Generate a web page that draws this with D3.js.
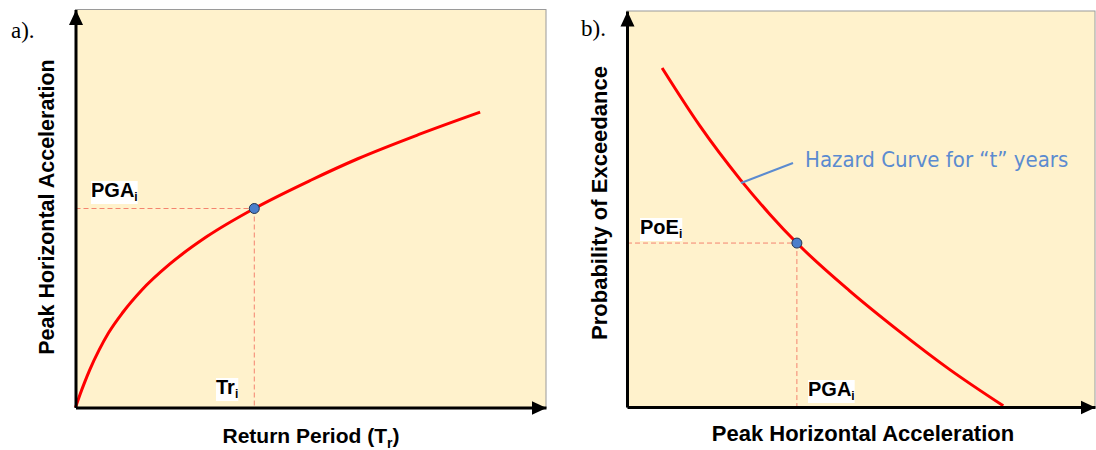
<!DOCTYPE html>
<html>
<head>
<meta charset="utf-8">
<script src="https://cdn.jsdelivr.net/npm/d3@7"></script>
<style>
  html, body { margin: 0; padding: 0; background: #ffffff; }
  svg { display: block; }
</style>
</head>
<body>
<svg id="chart" width="1096" height="450"></svg>
<script>
// Panel a: PGA rising with return period
const returnPeriod = [0, 1, 2, 3, 5, 7, 10, 14, 20, 28, 38, 50, 60, 73, 86];
const pgaByPeriod  = [0, 0.034, 0.065, 0.094, 0.144, 0.187, 0.238, 0.294, 0.36, 0.43, 0.50, 0.571, 0.625, 0.686, 0.742];
const markedPeriod = 38;
const markedPga    = 0.50;

// Panel b: hazard curve, probability of exceedance vs PGA
const pgaValues = [7.5, 15.5, 24.3, 30.5, 36.3, 47.5, 58.2, 68.9, 80.4];
const poeValues = [0.856, 0.711, 0.573, 0.487, 0.414, 0.294, 0.191, 0.095, 0.003];
const markedPgaB = 36.3;
const markedPoe  = 0.414;

const panelLabels = ["a).", "b)."];
const axisTitlesX = ["Return Period (T", "Peak Horizontal Acceleration"];
const axisTitlesY = ["Peak Horizontal Acceleration", "Probability of Exceedance"];
const calloutText = "Hazard Curve for \u201Ct\u201D years";

const svg = d3.select("#chart");
const C = {
  bg: "#FFF2CC", frame: "#9a9a9a", axis: "#000000", curve: "#ff0000",
  guide: "#f4846f", dot: "#4a7ecb", dotStroke: "#1f3350", callout: "#5b8bd0"
};
const boldFont = "'Liberation Sans', Arial, sans-serif";

const defs = svg.append("defs");
defs.append("marker")
  .attr("id", "arrow")
  .attr("markerUnits", "userSpaceOnUse")
  .attr("viewBox", "0 -8 16 16")
  .attr("refX", 15).attr("refY", 0)
  .attr("markerWidth", 16).attr("markerHeight", 16)
  .attr("orient", "auto")
  .append("path").attr("d", "M0,-7L15,0L0,7Z").attr("fill", C.axis);

const panels = [
  { x0: 75.5, x1: 546, y0: 407.5, y1: 9.5, xDom: [0, 100], yDom: [0, 1],
    xs: returnPeriod, ys: pgaByPeriod, mx: markedPeriod, my: markedPga },
  { x0: 627, x1: 1095, y0: 407, y1: 11, xDom: [0, 100], yDom: [0, 1],
    xs: pgaValues, ys: poeValues, mx: markedPgaB, my: markedPoe }
];

panels.forEach((p, i) => {
  const x = d3.scaleLinear().domain(p.xDom).range([p.x0, p.x1]);
  const y = d3.scaleLinear().domain(p.yDom).range([p.y0, p.y1]);
  p.x = x; p.y = y;
  const g = svg.append("g");

  // plotting area with thin frame on top and right
  g.append("rect")
    .attr("x", p.x0).attr("y", p.y1)
    .attr("width", p.x1 - p.x0).attr("height", p.y0 - p.y1)
    .attr("fill", C.bg).attr("stroke", C.frame).attr("stroke-width", 1);

  // dashed guide lines to the marked point
  g.append("line")
    .attr("x1", x(p.xDom[0])).attr("x2", x(p.mx))
    .attr("y1", y(p.my)).attr("y2", y(p.my))
    .attr("stroke", C.guide).attr("stroke-width", 1).attr("stroke-dasharray", "5,3");
  g.append("line")
    .attr("x1", x(p.mx)).attr("x2", x(p.mx))
    .attr("y1", y(p.my)).attr("y2", y(p.yDom[0]))
    .attr("stroke", C.guide).attr("stroke-width", 1).attr("stroke-dasharray", "5,3");

  // curve
  const line = d3.line().x(d => x(d[0])).y(d => y(d[1])).curve(d3.curveMonotoneX);
  g.append("path")
    .datum(d3.zip(p.xs, p.ys))
    .attr("d", line)
    .attr("fill", "none").attr("stroke", C.curve).attr("stroke-width", 3)
    .attr("stroke-linecap", "butt");

  // axes without ticks, with arrow heads
  const ax = g.append("g").attr("transform", `translate(0,${p.y0})`)
    .call(d3.axisBottom(x).tickValues([]).tickSizeOuter(0));
  const ay = g.append("g").attr("transform", `translate(${p.x0},0)`)
    .call(d3.axisLeft(y).tickValues([]).tickSizeOuter(0));
  [ax, ay].forEach(a => a.select(".domain")
    .attr("stroke", C.axis).attr("stroke-width", 3)
    .attr("marker-end", "url(#arrow)"));

  // panel tag
  svg.append("text")
    .attr("x", i === 0 ? 11 : 581).attr("y", i === 0 ? 38 : 36)
    .attr("font-family", "'Liberation Serif', 'Times New Roman', serif")
    .attr("font-size", 23).attr("fill", "#000")
    .text(panelLabels[i]);
});

// axis titles
const xt = svg.append("text")
  .attr("x", 311).attr("y", 443).attr("text-anchor", "middle")
  .attr("font-family", boldFont).attr("font-weight", "bold").attr("font-size", 21)
  .text(axisTitlesX[0]);
xt.append("tspan").attr("font-size", 14).attr("dy", 5).text("r");
xt.append("tspan").attr("dy", -5).text(")");

svg.append("text")
  .attr("x", 863).attr("y", 441).attr("text-anchor", "middle")
  .attr("font-family", boldFont).attr("font-weight", "bold").attr("font-size", 22)
  .text(axisTitlesX[1]);

svg.append("text")
  .attr("transform", "translate(54,207) rotate(-90)").attr("text-anchor", "middle")
  .attr("font-family", boldFont).attr("font-weight", "bold").attr("font-size", 21.5)
  .text(axisTitlesY[0]);

svg.append("text")
  .attr("transform", "translate(607,203) rotate(-90)").attr("text-anchor", "middle")
  .attr("font-family", boldFont).attr("font-weight", "bold").attr("font-size", 22)
  .text(axisTitlesY[1]);

// subscripted labels on white patches
function subLabel(xPos, yPos, main, sub) {
  const g = svg.append("g");
  const bg = g.append("rect").attr("fill", "#ffffff");
  const t = g.append("text")
    .attr("x", xPos).attr("y", yPos)
    .attr("font-family", boldFont).attr("font-weight", "bold").attr("font-size", 20)
    .attr("fill", "#000").text(main);
  t.append("tspan").attr("font-size", 12).attr("dy", 4).text(sub);
  const b = t.node().getBBox();
  bg.attr("x", b.x).attr("y", b.y + 2).attr("width", b.width).attr("height", b.height - 2);
}
subLabel(91, 197, "PGA", "i");
subLabel(216, 394, "Tr", "i");
subLabel(640, 234, "PoE", "i");
subLabel(808, 396, "PGA", "i");

// marked points
panels.forEach(p => {
  svg.append("circle")
    .attr("cx", p.x(p.mx)).attr("cy", p.y(p.my)).attr("r", 5)
    .attr("fill", C.dot).attr("stroke", C.dotStroke).attr("stroke-width", 1);
});

// callout for the hazard curve
svg.append("line")
  .attr("x1", 741).attr("y1", 183).attr("x2", 793).attr("y2", 163)
  .attr("stroke", C.callout).attr("stroke-width", 2);
svg.append("text")
  .attr("x", 805).attr("y", 167)
  .attr("font-family", "'Liberation Sans Narrow', 'Arial Narrow', 'DejaVu Sans Condensed', sans-serif")
  .attr("font-size", 22).attr("fill", C.callout)
  .text(calloutText);
</script>
</body>
</html>
